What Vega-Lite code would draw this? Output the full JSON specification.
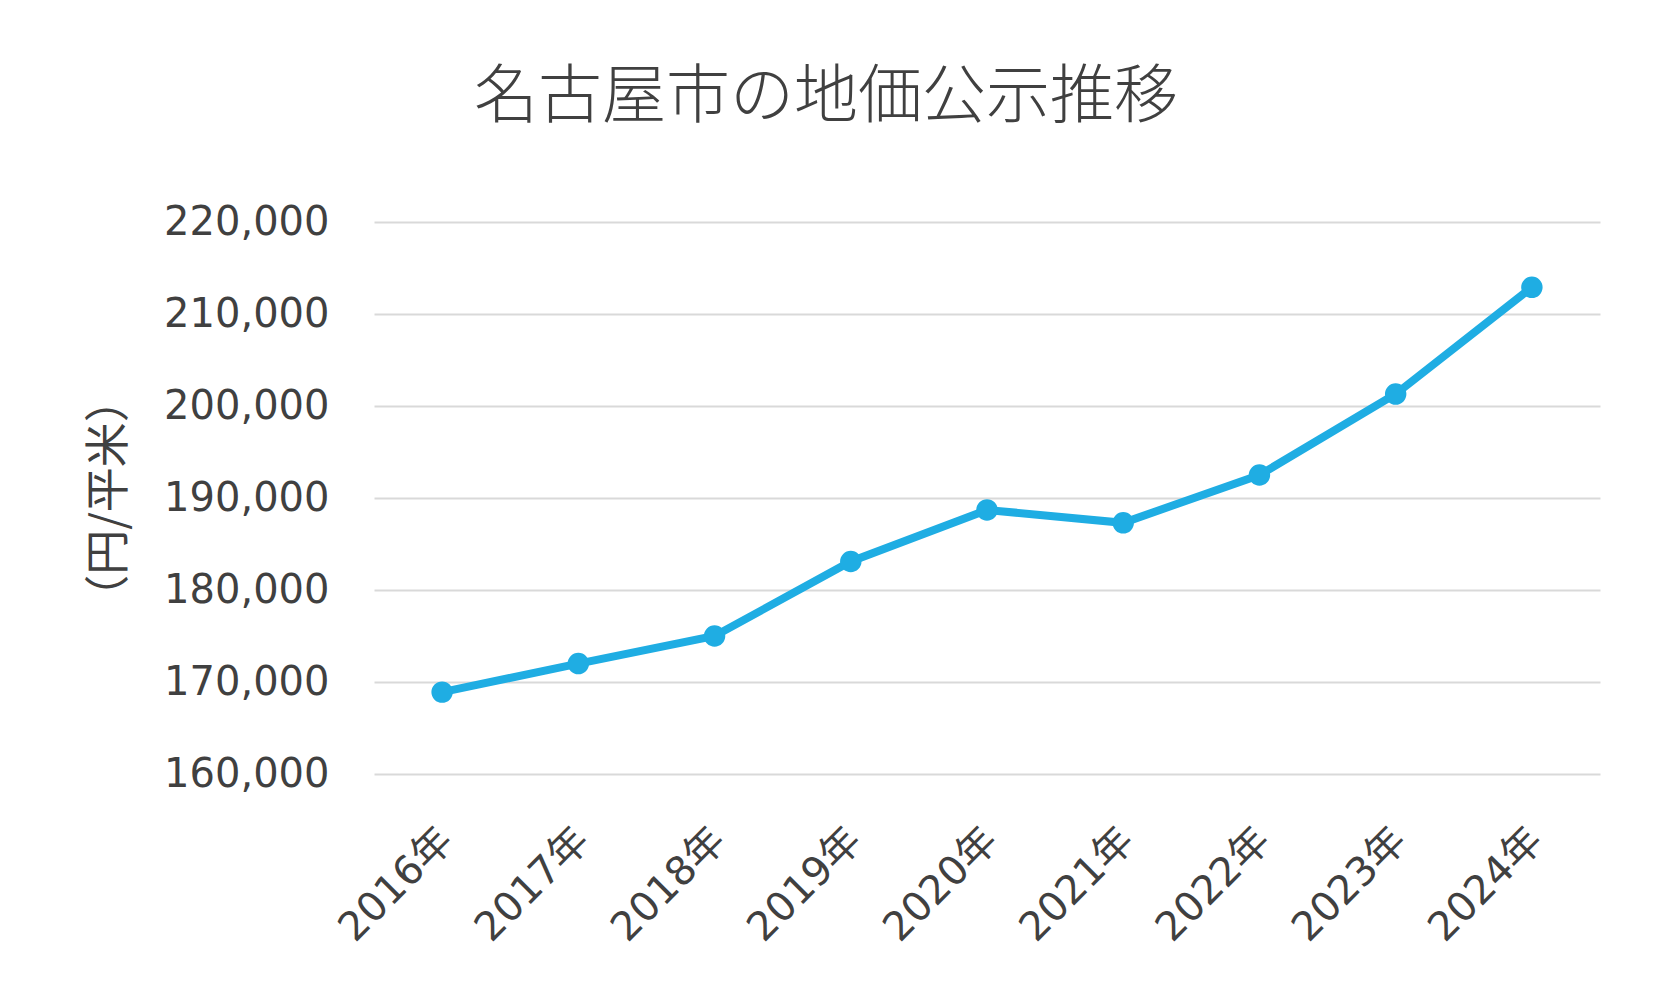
{
  "$schema": "https://vega.github.io/schema/vega-lite/v6.json",
  "autosize": {"type": "none"},
  "width": 1226,
  "height": 552,
  "padding": {"left": 374, "top": 222, "right": 53, "bottom": 219},
  "background": "white",
  "title": {
    "text": "名古屋市の地価公示推移",
    "font": "Noto Sans CJK JP",
    "fontSize": 64,
    "fontWeight": 300,
    "color": "#404040",
    "anchor": "middle",
    "dx": -161,
    "offset": 72
  },
  "data": {
    "values": [
      {"year": "2016年", "price": 168900},
      {"year": "2017年", "price": 172000},
      {"year": "2018年", "price": 175000},
      {"year": "2019年", "price": 183100},
      {"year": "2020年", "price": 188700},
      {"year": "2021年", "price": 187300},
      {"year": "2022年", "price": 192500},
      {"year": "2023年", "price": 201300},
      {"year": "2024年", "price": 212900}
    ]
  },
  "mark": {
    "type": "line",
    "color": "#1FADE3",
    "strokeWidth": 8,
    "point": {"filled": true, "size": 460, "color": "#1FADE3", "opacity": 1}
  },
  "encoding": {
    "x": {
      "field": "year",
      "type": "ordinal",
      "sort": null,
      "scale": {"type": "point", "padding": 0.5},
      "axis": {
        "title": null,
        "labelAngle": -45,
        "labelFont": "DejaVu Sans, Noto Sans CJK JP",
        "labelFontSize": 40,
        "labelColor": "#404040",
        "labelPadding": 46,
        "labelOffset": -10,
        "domain": false,
        "ticks": false,
        "grid": false
      }
    },
    "y": {
      "field": "price",
      "type": "quantitative",
      "scale": {"domain": [160000, 220000], "zero": false, "nice": false},
      "axis": {
        "values": [160000, 170000, 180000, 190000, 200000, 210000, 220000],
        "format": ",d",
        "title": "（円/平米）",
        "titleFont": "Noto Sans CJK JP",
        "titleFontSize": 45,
        "titleFontWeight": "normal",
        "titleColor": "#404040",
        "titlePadding": 42,
        "labelFont": "DejaVu Sans",
        "labelFontSize": 40,
        "labelColor": "#404040",
        "labelPadding": 45,
        "domain": false,
        "ticks": false,
        "grid": true,
        "gridColor": "#D9D9D9",
        "gridWidth": 2
      }
    }
  },
  "config": {
    "view": {"stroke": null}
  }
}
